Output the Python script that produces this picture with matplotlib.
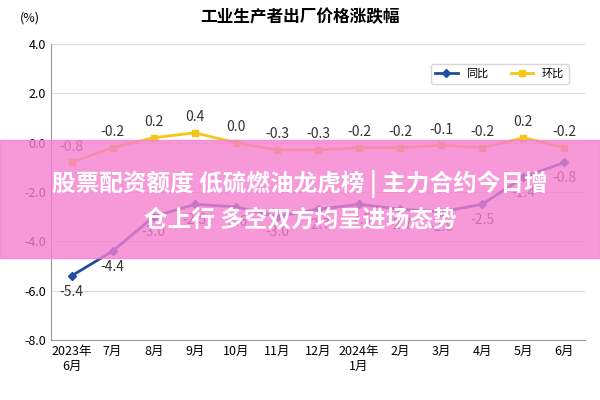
import matplotlib
matplotlib.use("Agg")
import matplotlib.pyplot as plt

plt.rcParams['font.family'] = ['Noto Sans CJK SC', 'DejaVu Sans']

months = ["2023年\n6月", "7月", "8月", "9月", "10月", "11月", "12月", "2024年\n1月", "2月", "3月", "4月", "5月", "6月"]
yoy = [-5.4, -4.4, -3.0, -2.5, -2.6, -3.0, -2.7, -2.5, -2.7, -2.8, -2.5, -1.4, -0.8]
mom = [-0.8, -0.2, 0.2, 0.4, 0.0, -0.3, -0.3, -0.2, -0.2, -0.1, -0.2, 0.2, -0.2]

fig = plt.figure(figsize=(6, 4), dpi=100)
ax = fig.add_axes([0.085, 0.15, 0.89, 0.74])
x = list(range(len(months)))
ax.plot(x, yoy, color='#1f4e9c', marker='D', markersize=4, lw=2, label='同比')
ax.plot(x, mom, color='#f5c518', marker='s', markersize=4, lw=2, label='环比')
for i, v in enumerate(yoy):
    ax.text(i, v - 0.35, f"{v:.1f}", ha='center', va='top', fontsize=10, color='#333')
for i, v in enumerate(mom):
    ax.text(i, v + 0.35, f"{v:.1f}", ha='center', va='bottom', fontsize=10, color='#333')
ax.set_ylim(-8, 4)
ax.set_yticks([4, 2, 0, -2, -4, -6, -8])
ax.set_yticklabels([f"{t:.1f}" for t in [4, 2, 0, -2, -4, -6, -8]], fontsize=9)
ax.set_xlim(-0.5, 12.5)
ax.set_xticks(x)
ax.set_xticklabels(months, fontsize=9)
ax.yaxis.grid(True, color='#dddddd', lw=0.8)
ax.set_axisbelow(True)
for s in ['top', 'right']:
    ax.spines[s].set_visible(False)
ax.spines['left'].set_color('#999')
ax.spines['bottom'].set_color('#999')
ax.tick_params(length=0)
ax.legend(loc='upper right', ncol=2, fontsize=8, frameon=True, bbox_to_anchor=(0.98, 0.95))
fig.text(0.5, 0.945, "工业生产者出厂价格涨跌幅", ha='center', fontsize=12, weight='bold')
fig.text(0.05, 0.945, "(%)", ha='center', fontsize=9)

fig.patches.append(plt.Rectangle((0, 0.355), 1, 0.295, transform=fig.transFigure,
                                 color='#f57fd0', alpha=0.8, zorder=5))
fig.text(0.5, 0.54, "股票配资额度 低硫燃油龙虎榜 | 主力合约今日增", ha='center', va='center',
         fontsize=17, weight='bold', color='white', zorder=6)
fig.text(0.5, 0.45, "仓上行 多空双方均呈进场态势", ha='center', va='center',
         fontsize=17, weight='bold', color='white', zorder=6)
fig.savefig("out.png")
